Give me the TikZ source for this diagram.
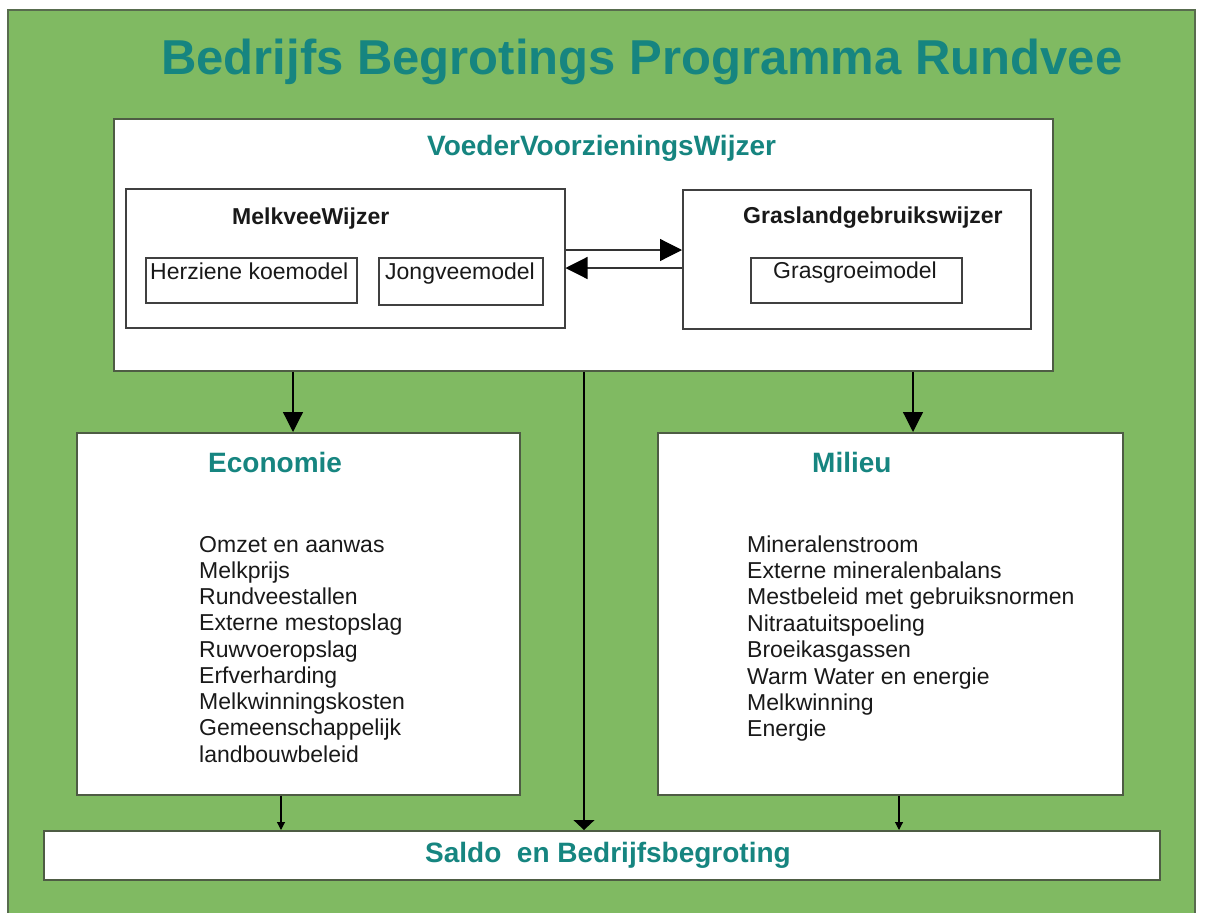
\documentclass[tikz,border=0pt]{standalone}
\usepackage{fontspec}
\setmainfont{Liberation Sans}
\usetikzlibrary{arrows.meta}
\definecolor{bggreen}{RGB}{128,186,98}
\definecolor{framecol}{RGB}{88,108,78}
\definecolor{edgecol}{RGB}{78,92,68}
\definecolor{tealtxt}{RGB}{22,133,128}
\definecolor{listcol}{RGB}{25,25,25}
\tikzset{
  whitebox/.style={draw=edgecol, fill=white, line width=1.6pt, inner sep=0pt, anchor=north west},
  subbox/.style={draw=black!75, fill=white, line width=1.5pt, inner sep=0pt, anchor=north west},
  ttl/.style={inner sep=0pt, anchor=base west, text=tealtxt, font=\fontsize{49}{55}\selectfont\bfseries},
  head/.style={inner sep=0pt, anchor=base west, text=tealtxt, font=\fontsize{28}{32}\selectfont\bfseries},
  subhead/.style={inner sep=0pt, anchor=base west, text=black!90, font=\fontsize{23}{26}\selectfont\bfseries},
  plain/.style={inner sep=0pt, anchor=base west, text=listcol, font=\fontsize{23}{26}\selectfont},
  bigarr/.style={line width=1.2pt, draw=black, -{Triangle[length=20pt,width=20pt]}},
  midarr/.style={line width=1.2pt, draw=black, -{Triangle[length=10pt,width=21pt]}},
  smallarr/.style={line width=1.1pt, draw=black, -{Triangle[length=8pt,width=8pt]}},
  sidearr/.style={line width=1.2pt, draw=black!80, -{Triangle[length=22pt,width=22pt,fill=black,color=black]}}
}
\begin{document}
\begin{tikzpicture}[x=1pt,y=-1pt]
\useasboundingbox (0,0) rectangle (1208,913);
\fill[white] (0,0) rectangle (1208,913);
% outer frame
\draw[fill=bggreen, draw=framecol, line width=2.5pt] (8,10) rectangle (1195,930);
% title
\node[ttl] (title) at (161,74) {Bedrijfs Begrotings Programma Rundvee};
% top box
\node[whitebox, minimum width=939pt, minimum height=252pt] (vvw) at (113,118) {};
\node[head] (vvwt) at (427,155) {VoederVoorzieningsWijzer};
% MelkveeWijzer
\node[subbox, minimum width=439pt, minimum height=139pt] (mvw) at (125,188) {};
\node[subhead] (mvwt) at (232,224) {MelkveeWijzer};
\node[subbox, minimum width=211pt, minimum height=45pt] (hk) at (145,257) {};
\node[plain] (hkt) at (150,279) {Herziene koemodel};
\node[subbox, minimum width=164pt, minimum height=47pt] (jv) at (378,257) {};
\node[plain] (jvt) at (385,279) {Jongveemodel};
% Graslandgebruikswijzer
\node[subbox, minimum width=348pt, minimum height=139pt] (glw) at (682,189) {};
\node[subhead] (glwt) at (743,223) {Graslandgebruikswijzer};
\node[subbox, minimum width=211pt, minimum height=45pt] (gg) at (750,257) {};
\node[plain] (ggt) at (773,278) {Grasgroeimodel};
% arrows between
\draw[sidearr] (mvw.east |- 0,250) -- (glw.west |- 0,250);
\draw[sidearr] (glw.west |- 0,268) -- (mvw.east |- 0,268);
% Economie
\node[whitebox, minimum width=443pt, minimum height=362pt] (eco) at (76,432) {};
\node[head] (ecot) at (208,472) {Economie};
\foreach \t [count=\i] in {Omzet en aanwas,Melkprijs,Rundveestallen,Externe mestopslag,Ruwvoeropslag,Erfverharding,Melkwinningskosten,Gemeenschappelijk,landbouwbeleid}
  \node[plain] (eco\i) at (199,{552+26.25*(\i-1)}) {\t};
% Milieu
\node[whitebox, minimum width=465pt, minimum height=362pt] (mil) at (657,432) {};
\node[head] (milt) at (812,472) {Milieu};
\foreach \t [count=\i] in {Mineralenstroom,Externe mineralenbalans,Mestbeleid met gebruiksnormen,Nitraatuitspoeling,Broeikasgassen,Warm Water en energie,Melkwinning,Energie}
  \node[plain] (mil\i) at (747,{552+26.4*(\i-1)}) {\t};
% Saldo
\node[whitebox, minimum width=1116pt, minimum height=49pt] (saldo) at (43,830) {};
\node[head] (saldot) at (425,862) {Saldo\ \ en Bedrijfsbegroting};
% vertical connectors
\draw[bigarr] (vvw.south -| 293,0) -- (eco.north -| 293,0);
\draw[bigarr] (vvw.south -| 913,0) -- (mil.north -| 913,0);
\draw[midarr] (vvw.south -| 584,0) -- (saldo.north -| 584,0);
\draw[smallarr] (eco.south -| 281,0) -- (saldo.north -| 281,0);
\draw[smallarr] (mil.south -| 899,0) -- (saldo.north -| 899,0);
\end{tikzpicture}
\end{document}
